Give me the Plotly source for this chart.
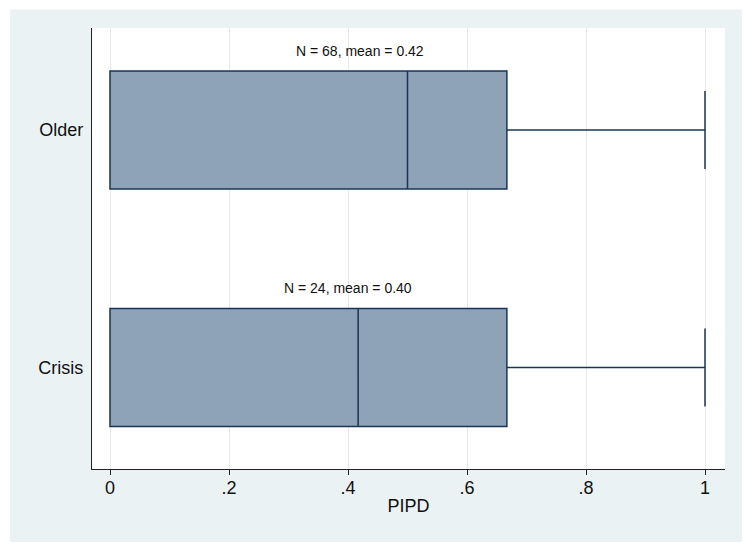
import plotly.graph_objects as go

# ---- data ----
groups = ["Older", "Crisis"]
group_pos = [1, 0]
q1 = [0.0, 0.0]
median = [0.5, 0.417]
q3 = [0.667, 0.667]
lower_fence = [0.0, 0.0]
upper_fence = [1.0, 1.0]
n_obs = [68, 24]
means = [0.42, 0.40]
x_tickvals = [0, 0.2, 0.4, 0.6, 0.8, 1]
x_ticktext = ["0", ".2", ".4", ".6", ".8", "1"]
x_title = "PIPD"

FILL = "#8ea2b8"
LINE = "#1b3453"
BG = "#eaf2f3"
FONT = "Liberation Sans, Arial, sans-serif"

fig = go.Figure()
fig.add_trace(go.Box(
    orientation="h",
    y=group_pos,
    q1=q1, median=median, q3=q3,
    lowerfence=lower_fence, upperfence=upper_fence,
    width=0.497,
    whiskerwidth=0.66,
    fillcolor=FILL,
    line=dict(color=LINE, width=1.5),
    boxpoints=False,
    showlegend=False,
))

for yp, n, m in zip(group_pos, n_obs, means):
    fig.add_annotation(
        x=m, y=yp + 0.333, xref="x", yref="y",
        text=f"N = {n}, mean = {m:.2f}",
        showarrow=False,
        font=dict(family=FONT, size=14, color="#111"),
        xanchor="center", yanchor="middle",
    )

# background: outer light blue-gray region, then white plot region
fig.add_shape(type="rect", xref="paper", yref="paper",
              x0=-0.1295, x1=1.0269, y0=-0.1655, y1=1.042,
              fillcolor=BG, line=dict(width=0), layer="below")
fig.add_shape(type="rect", xref="paper", yref="paper",
              x0=0, x1=1, y0=0, y1=1,
              fillcolor="white", line=dict(width=0), layer="below")

fig.update_layout(
    width=752, height=552,
    margin=dict(l=92, r=27, t=28, b=83, pad=0),
    paper_bgcolor="white",
    plot_bgcolor="white",
    font=dict(family=FONT, size=18, color="#111"),
    xaxis=dict(
        range=[-0.03025, 1.0336],
        tickvals=x_tickvals, ticktext=x_ticktext,
        ticks="outside", ticklen=5, tickwidth=1.3, tickcolor="#222",
        showgrid=True, gridcolor="#e6e9ea", gridwidth=1,
        showline=True, linecolor="#222", linewidth=1.4,
        zeroline=False,
        title=dict(text=x_title, standoff=2, font=dict(size=18)),
        tickfont=dict(size=18),
        ticklabelstandoff=-3,
    ),
    yaxis=dict(
        range=[-0.4274, 1.4295],
        tickvals=group_pos, ticktext=groups,
        ticks="", showgrid=False, zeroline=False,
        showline=True, linecolor="#222", linewidth=1.4,
        tickfont=dict(size=18),
        ticklabelstandoff=4,
    ),
)

fig.write_html("out.html")
